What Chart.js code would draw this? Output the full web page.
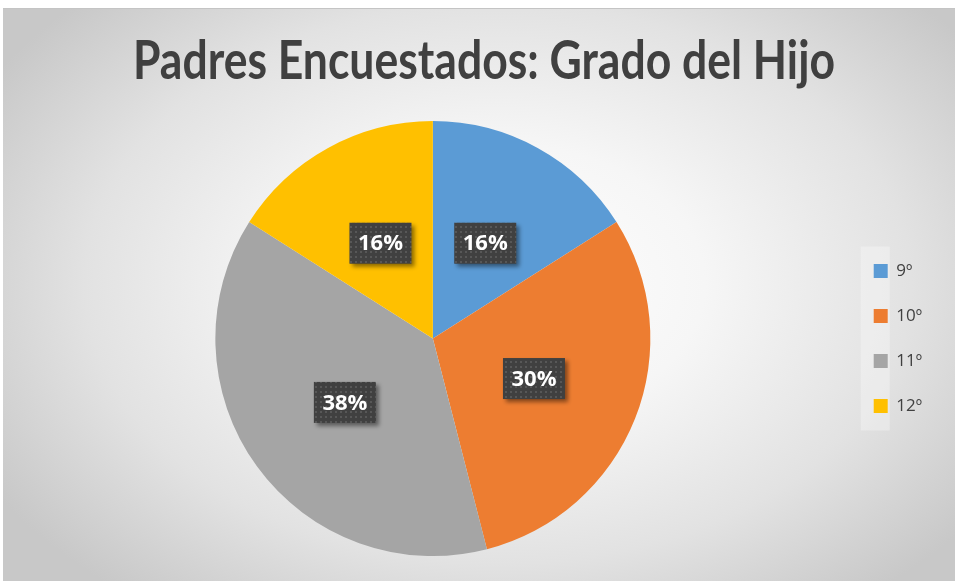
<!DOCTYPE html>
<html>
<head>
<meta charset="utf-8">
<script src="https://cdn.jsdelivr.net/npm/chart.js@4"></script>
<style>
  html, body { margin: 0; padding: 0; background: #fff; }
  #frame {
    position: absolute; left: 3px; top: 8px; width: 952px; height: 573px;
    background: radial-gradient(ellipse 62% 70% at 52% 48%, #ffffff 0%, #f6f6f6 35%, #e2e2e2 70%, #c8c8c8 100%);
    border-top: 1px solid #c4c4c4;
    box-sizing: border-box;
  }
</style>
</head>
<body>
<div id="frame"><canvas id="myChart"></canvas></div>
<script>
const ctx = document.getElementById('myChart');

// datos
const titulo = 'Padres Encuestados: Grado del Hijo';
const grados = ['9º', '10º', '11º', '12º'];
const porcentajes = [16, 30, 38, 16];
const colores = ['#5B9BD5', '#ED7D31', '#A5A5A5', '#FFC000'];

// fondo oscuro punteado de las etiquetas
const pat = document.createElement('canvas');
pat.width = 5; pat.height = 5;
const pctx = pat.getContext('2d');
pctx.fillStyle = '#404040';
pctx.fillRect(0, 0, 5, 5);
pctx.fillStyle = '#575757';
pctx.fillRect(2, 2, 2, 2);

// titulo estrecho (tipo Calibri)
const tituloEstrecho = {
    id: 'tituloEstrecho',
    afterDraw(chart) {
        const c = chart.ctx;
        c.save();
        c.font = 'bold 53px Lato, "Open Sans", sans-serif';
        const w = c.measureText(titulo).width;
        const sx = 702 / w;
        c.translate(481, 70);
        c.scale(sx, 1);
        c.fillStyle = '#404040';
        c.textAlign = 'center';
        c.textBaseline = 'alphabetic';
        c.fillText(titulo, 0, 0);
        c.restore();
    }
};

const etiquetas = {
    id: 'etiquetas',
    afterDatasetsDraw(chart) {
        const c = chart.ctx;
        const meta = chart.getDatasetMeta(0);
        const fill = c.createPattern(pat, 'repeat');
        meta.data.forEach((arc, i) => {
            const p = arc.tooltipPosition();
            const w = 62, h = 41;
            c.save();
            c.shadowColor = 'rgba(0,0,0,0.45)';
            c.shadowBlur = 4;
            c.shadowOffsetX = 3;
            c.shadowOffsetY = 3;
            c.fillStyle = fill;
            c.fillRect(p.x - w / 2, p.y - h / 2, w, h);
            c.restore();
            c.save();
            c.fillStyle = '#ffffff';
            c.font = 'bold 22px "Open Sans", sans-serif';
            c.textAlign = 'center';
            c.textBaseline = 'middle';
            c.fillText(porcentajes[i] + '%', p.x, p.y + 1);
            c.restore();
        });
    }
};

const fondoLeyenda = {
    id: 'fondoLeyenda',
    beforeDraw(chart) {
        const l = chart.legend;
        const hb = l.legendHitBoxes;
        if (!hb || !hb.length) return;
        const c = chart.ctx;
        const top = hb[0].top - 16;
        const last = hb[hb.length - 1];
        const bottom = last.top + last.height + 16;
        c.save();
        c.fillStyle = 'rgba(255,255,255,0.3)';
        c.fillRect(l.left + 15, top, 29, bottom - top);
        c.restore();
    }
};

const myChart = new Chart(ctx, {
    type: 'pie',
    data: {
        labels: grados,
        datasets: [{
            data: porcentajes,
            backgroundColor: colores,
            borderWidth: 0
        }]
    },
    options: {
        responsive: true,
        maintainAspectRatio: false,
        animation: false,
        layout: { padding: { top: 112, bottom: 25, left: 17, right: 23 } },
        plugins: {
            title: { display: false },
            legend: {
                position: 'right',
                fullSize: false,
                labels: {
                    boxWidth: 14,
                    boxHeight: 14,
                    padding: 28,
                    color: '#404040',
                    font: { family: 'Open Sans', size: 17 }
                }
            },
            tooltip: { enabled: false }
        }
    },
    plugins: [fondoLeyenda, etiquetas, tituloEstrecho]
});
</script>
</body>
</html>
